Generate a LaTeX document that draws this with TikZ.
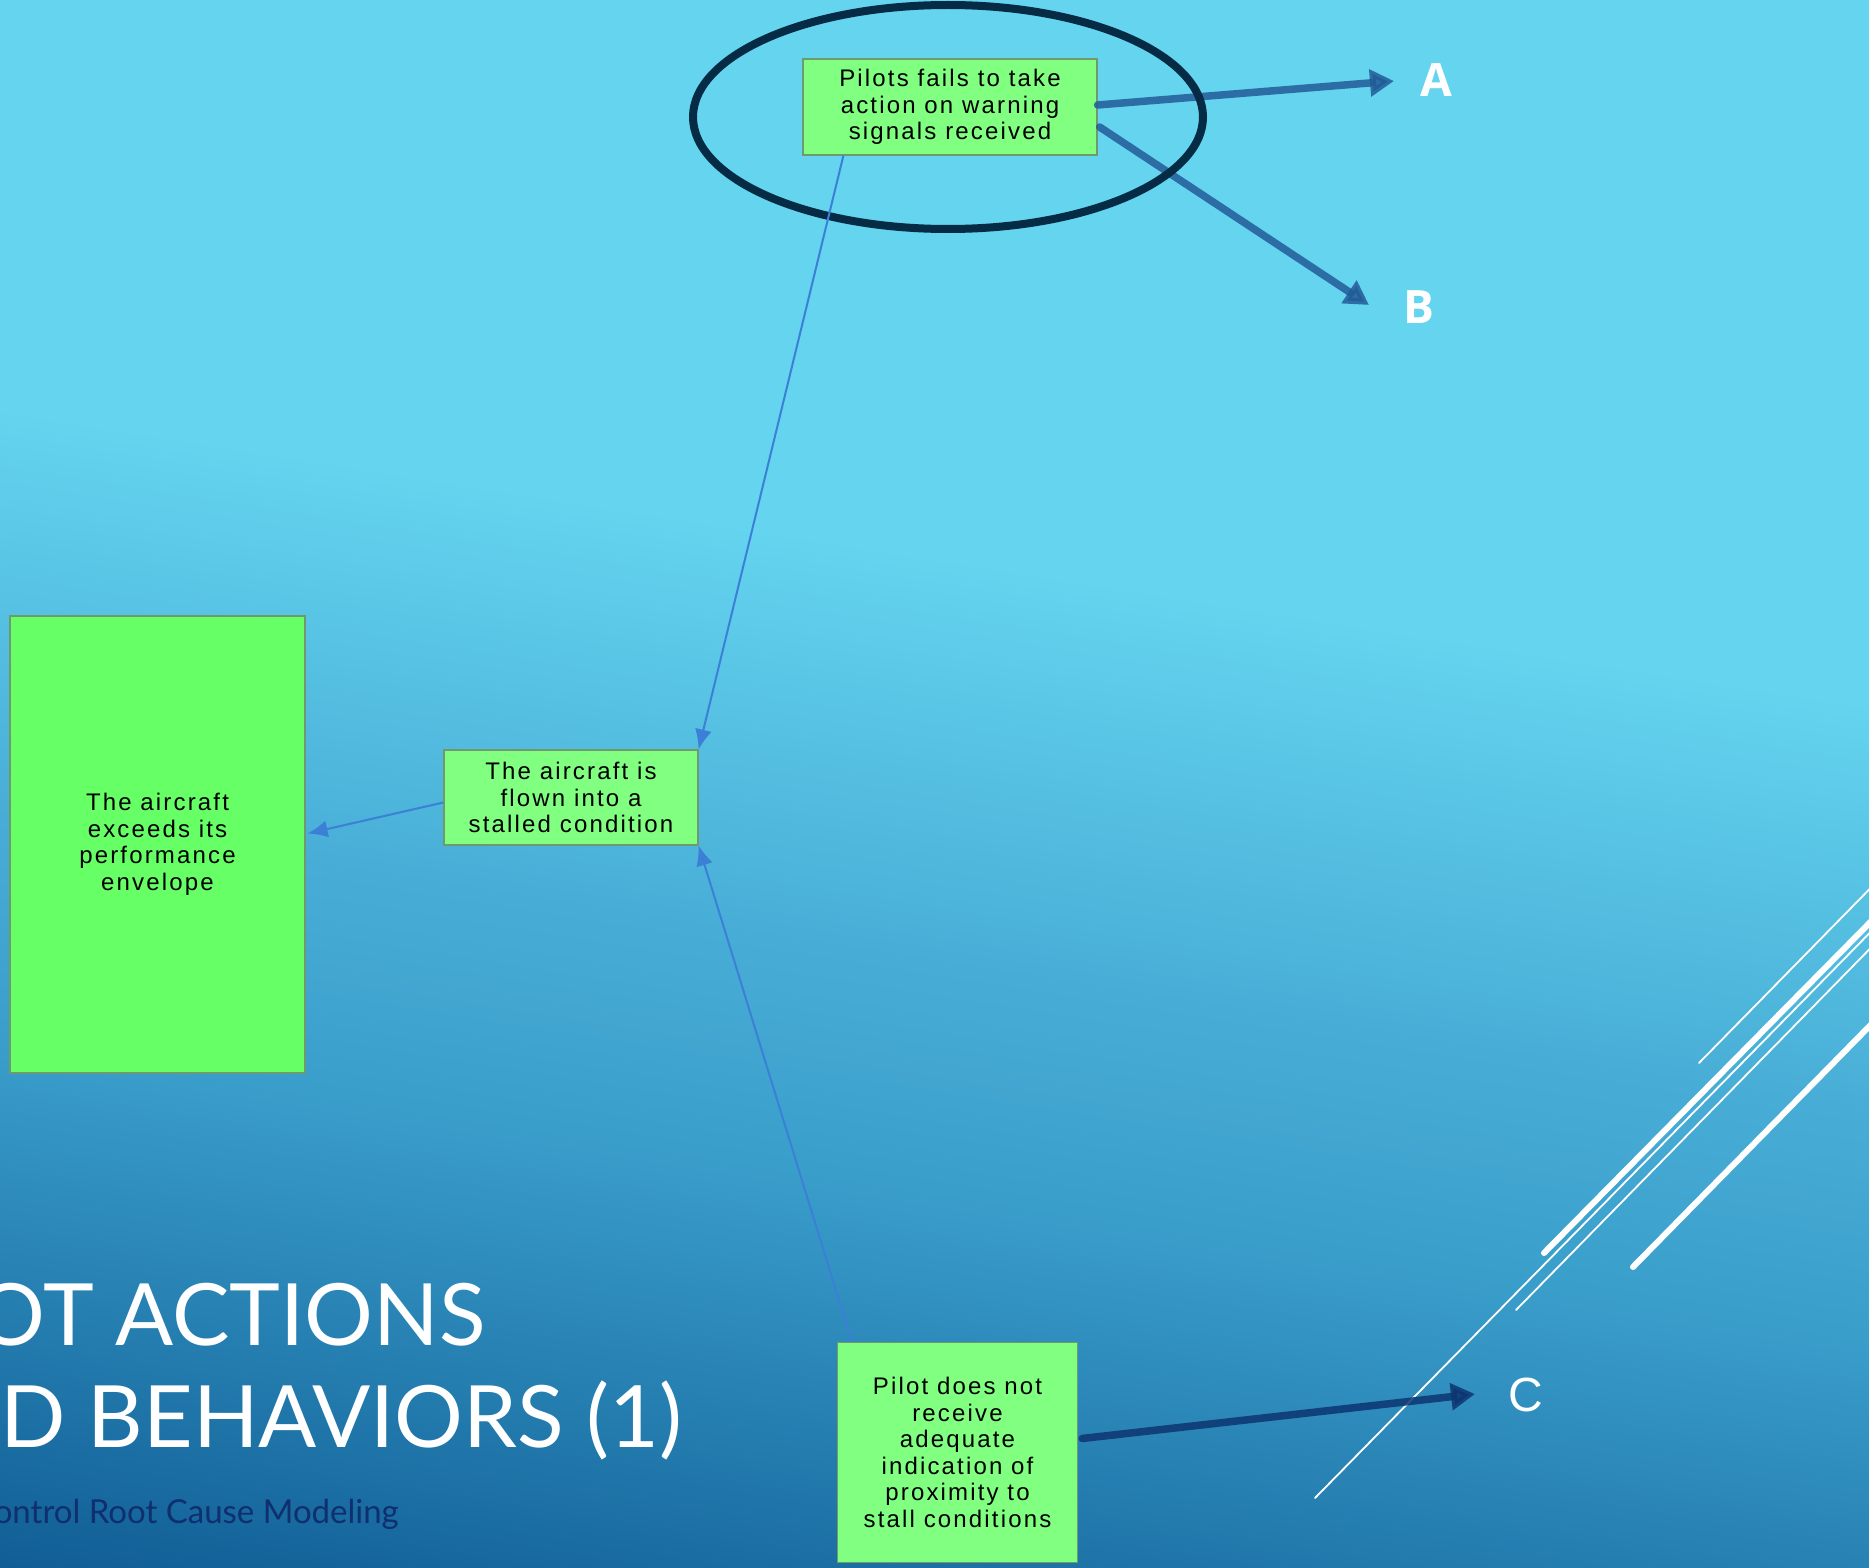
\documentclass[tikz,border=0pt]{standalone}
\usepackage{fontspec}
\setmainfont{Liberation Sans}
\newfontfamily\boxfont[LetterSpace=9]{Liberation Sans}
\newfontfamily\titlefont{Lato}
\newfontfamily\labelfont{Open Sans}
\usetikzlibrary{arrows.meta,calc}

% palette
\definecolor{bgA}{HTML}{64D4EF}
\definecolor{bgB}{HTML}{48ADD6}
\definecolor{bgC}{HTML}{3A9ECB}
\definecolor{bgD}{HTML}{1A6DA2}
\definecolor{bgE}{HTML}{0F5C93}
\definecolor{boxlight}{HTML}{80FF80}
\definecolor{boxbright}{HTML}{66FF66}
\definecolor{boxedge}{HTML}{6E9A6E}
\definecolor{linkblue}{HTML}{3B80D6}
\definecolor{ringnavy}{HTML}{062B45}
\definecolor{arrowAB}{HTML}{225C97}
\definecolor{arrowC}{HTML}{0D3571}
\definecolor{subnavy}{HTML}{0F2F6E}

% slide background: light cyan fading to deep blue towards the bottom
\pgfdeclareverticalshading{bgshade}{100bp}{%
  color(0bp)=(bgE); color(28.5bp)=(bgE); color(31.6bp)=(bgD);
  color(40.8bp)=(bgC); color(45.9bp)=(bgB); color(55.2bp)=(bgA);
  color(100bp)=(bgA)}

\tikzset{
  cause/.style={draw=boxedge, line width=1.2pt, fill=boxlight, inner sep=0pt,
    align=center, text=black, font=\boxfont\fontsize{24}{26.5}\selectfont},
  link/.style={draw=linkblue, line width=2pt, -{Latex[length=20pt,width=17pt]}},
  bigarrow/.style={line width=7.5pt, line cap=round, opacity=0.85,
    -{Triangle[length=24pt,width=26pt]}},
  letter/.style={text=white, inner sep=0pt},
  slashthin/.style={draw=white, line width=1.8pt, line cap=round},
  slashthick/.style={draw=white, line width=6pt, line cap=round},
  titletext/.style={anchor=base east, inner sep=0pt, text=white,
    font=\titlefont\fontsize{86}{86}\selectfont}
}

\begin{document}
\begin{tikzpicture}[x=1pt, y=-1pt]
\useasboundingbox (0,0) rectangle (1869,1568);
\clip (0,0) rectangle (1869,1568);

% background
\begin{scope}[transform canvas={rotate around={-9:(934.5,784)}}]
  \shade[shading=bgshade] (-300,-300) rectangle (2169,1868);
\end{scope}

% decorative diagonal strokes at the lower right
\draw[slashthin]  (1315,1498) -- (1900,902);
\draw[slashthick] (1544,1253) -- (1900,892);
\draw[slashthin]  (1516,1310) -- (1900,918);
\draw[slashthin]  (1699,1063) -- (1900,858);
\draw[slashthick] (1633,1267) -- (1900,995);

% slide title
\node[titletext] (t1) at (486,1345) {OT ACTIONS};
\node[titletext] (t2) at (682,1447) {D BEHAVIORS (1)};
\node[anchor=base east, inner sep=0pt, text=subnavy,
      font=\titlefont\fontsize{33}{33}\selectfont] (t3) at (399,1523)
      {ontrol Root Cause Modeling};

% causal factors
\node[cause, minimum width=294pt, minimum height=96pt] (top) at (950,107)
  {Pilots fails to take\\action on warning\\signals received};
\node[cause, minimum width=254pt, minimum height=95pt] (mid) at (571,797.5)
  {The aircraft is\\flown into a\\stalled condition};
\node[cause, fill=boxbright, minimum width=295pt, minimum height=457pt] (big) at (157.5,844.5)
  {The aircraft\\exceeds its\\performance\\envelope};
\node[cause, minimum width=240pt, minimum height=220pt] (bot) at (957.5,1452.5)
  {Pilot does not\\receive\\adequate\\indication of\\proximity to\\stall conditions};

% continuation markers
\node[letter, font=\labelfont\bfseries\fontsize{46}{46}\selectfont] (A) at (1436,80) {A};
\node[letter, font=\labelfont\bfseries\fontsize{46}{46}\selectfont] (B) at (1419,307) {B};
\node[letter, font=\fontsize{48}{48}\selectfont] (C) at (1526,1395) {C};
\coordinate (aEnd) at (1394,81);
\coordinate (bEnd) at (1369,305);
\coordinate (cEnd) at (1475,1394);

\draw[bigarrow, arrowAB] ($(top.east)+(0,-2)$) -- (aEnd);
\draw[bigarrow, arrowAB] ($(top.east)+(2,20)$) -- (bEnd);
\draw[bigarrow, arrowC] ($(bot.east)+(4,-14)$) -- (cEnd);

% highlight ring
\draw[draw=ringnavy, line width=8pt] (948,117) ellipse [x radius=255, y radius=112];

% causal links
\draw[link] ($(top.south west)+(41,0)$) -- (mid.north east);
\draw[link] ($(bot.north west)+(15,0)$) -- (mid.south east);
\draw[link] ($(mid.west)+(0,5)$) -- ($(big.east)+(2,-11)$);
\end{tikzpicture}
\end{document}
